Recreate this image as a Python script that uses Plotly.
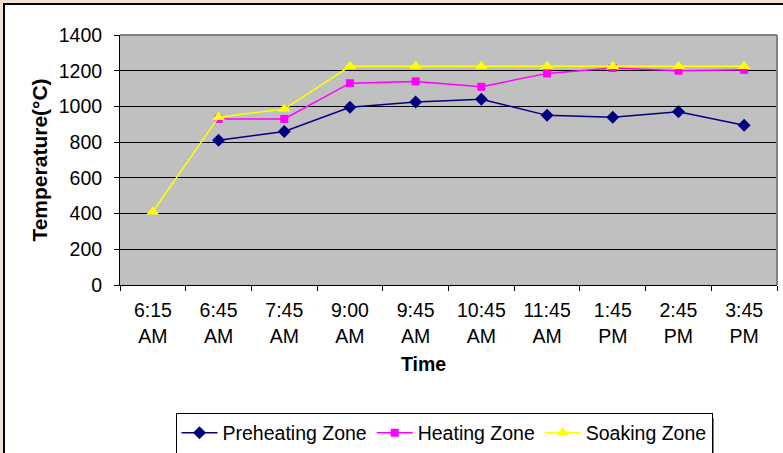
import plotly.graph_objects as go

# Furnace zone temperatures sampled through the day
times = ["6:15 AM", "6:45 AM", "7:45 AM", "9:00 AM", "9:45 AM",
         "10:45 AM", "11:45 AM", "1:45 PM", "2:45 PM", "3:45 PM"]
preheating = [None, 810, 860, 995, 1025, 1040, 950, 940, 970, 895]
heating = [None, 930, 930, 1130, 1140, 1110, 1185, 1215, 1200, 1205]
soaking = [410, 940, 985, 1225, 1225, 1225, 1225, 1225, 1225, 1225]
y_ticks = [0, 200, 400, 600, 800, 1000, 1200, 1400]

tick_labels = [t.replace(" ", "<br>") for t in times]

W, H = 783, 453
L, R, T, B = 120, 777, 35, 285  # plot area in pixels
FONT = "Liberation Sans, Arial, sans-serif"
FS = 19.5


def px_x(p):
    return (p - L) / (R - L)


def px_y(p):
    return (B - p) / (B - T)


fig = go.Figure()
fig.add_trace(go.Scatter(
    x=times, y=preheating, name="Preheating Zone", mode="lines+markers",
    line=dict(color="#000080", width=1.5),
    marker=dict(symbol="diamond", size=10, color="#000080"),
))
fig.add_trace(go.Scatter(
    x=times, y=heating, name="Heating Zone", mode="lines+markers",
    line=dict(color="#FF00FF", width=1.5),
    marker=dict(symbol="square", size=8, color="#FF00FF"),
))
fig.add_trace(go.Scatter(
    x=times, y=soaking, name="Soaking Zone", mode="lines+markers",
    line=dict(color="#FFFF00", width=1.5),
    marker=dict(symbol="triangle-up", size=11, color="#FFFF00"),
))

shapes = [
    # white chart panel with black frame
    dict(type="rect", xref="paper", yref="paper", layer="below",
         x0=px_x(4), x1=px_x(800), y0=px_y(4), y1=px_y(470),
         fillcolor="white", line=dict(color="black", width=2)),
    # grey plot area
    dict(type="rect", xref="paper", yref="paper", layer="below",
         x0=0, x1=1, y0=0, y1=1,
         fillcolor="#C0C0C0", line=dict(width=0)),
    # grey top and right edges of the plot area
    dict(type="line", xref="paper", yref="paper", layer="above",
         x0=0, x1=1, y0=1, y1=1, line=dict(color="#808080", width=2)),
    dict(type="line", xref="paper", yref="paper", layer="above",
         x0=1, x1=1, y0=0, y1=1, line=dict(color="#808080", width=2)),
    # legend shadow
    dict(type="rect", xref="paper", yref="paper", layer="below",
         x0=px_x(178), x1=px_x(714), y0=px_y(418), y1=px_y(453),
         fillcolor="#808080", line=dict(width=0)),
]

fig.update_layout(
    width=W, height=H,
    margin=dict(l=L, r=W - R, t=T, b=H - B, pad=0),
    paper_bgcolor="#F2E2D3",
    plot_bgcolor="rgba(0,0,0,0)",
    font=dict(family=FONT, size=FS, color="black"),
    shapes=shapes,
    showlegend=True,
    legend=dict(
        orientation="h", xref="container", yref="container",
        x=444 / W, xanchor="center",
        y=1 - 433 / H, yanchor="middle",
        bgcolor="white", bordercolor="black", borderwidth=1,
        font=dict(family=FONT, size=FS, color="black"),
        itemwidth=36, tracegroupgap=0,
    ),
    annotations=[
        dict(text="<b>Time</b>", xref="paper", yref="paper",
             x=px_x(423), y=px_y(364), xanchor="center", yanchor="middle",
             showarrow=False, font=dict(family=FONT, size=FS)),
    ],
)

fig.update_xaxes(
    type="category", categoryorder="array", categoryarray=times,
    range=[-0.5, len(times) - 0.5], automargin=False,
    tickvals=times, ticktext=tick_labels,
    tickson="boundaries", ticks="outside", ticklen=5, tickcolor="black",
    showline=True, linecolor="black", linewidth=1,
    showgrid=False, zeroline=False, ticklabelstandoff=8,
    tickfont=dict(family=FONT, size=FS),
)
fig.update_yaxes(
    range=[0, 1400], tickvals=y_ticks, automargin=False,
    ticks="outside", ticklen=5, tickcolor="black",
    showline=True, linecolor="black", linewidth=1,
    showgrid=True, gridcolor="black", gridwidth=1, zeroline=False,
    ticklabelstandoff=8,
    tickfont=dict(family=FONT, size=FS),
    title=dict(text="<b>Temperature(°C)</b>", font=dict(family=FONT, size=21),
               standoff=5),
)

fig.write_html("out.html")
